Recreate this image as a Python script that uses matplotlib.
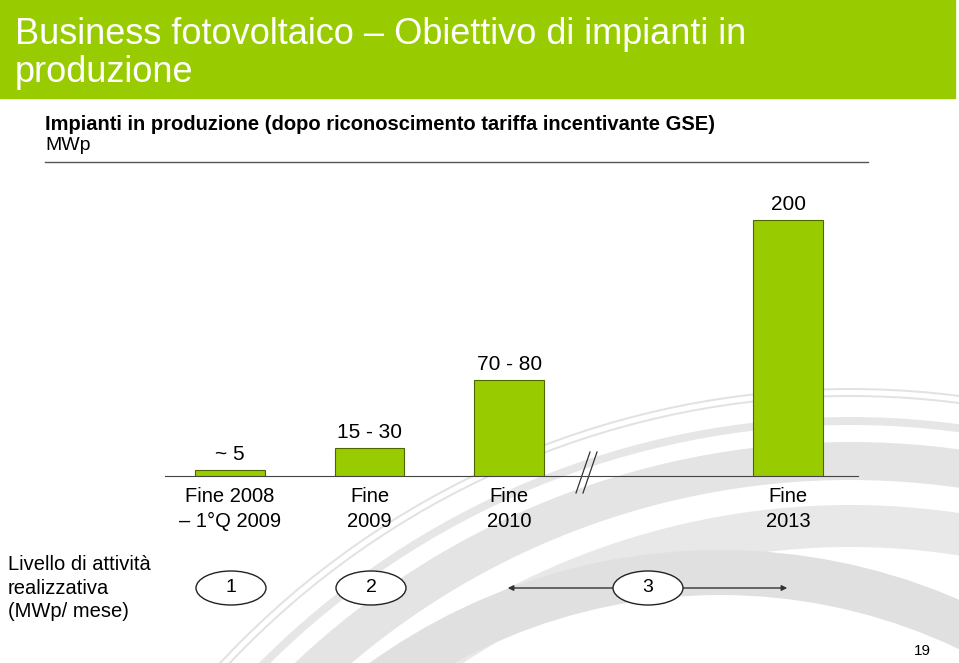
import matplotlib.pyplot as plt
from matplotlib.patches import Rectangle, Ellipse, Wedge

plt.rcParams['font.family'] = ['Liberation Sans', 'DejaVu Sans']

# ------------------ Data ------------------
categories = ["Fine 2008\n– 1°Q 2009", "Fine\n2009", "Fine\n2010", "Fine\n2013"]
values = [5, 22, 75, 200]
value_labels = ["~ 5", "15 - 30", "70 - 80", "200"]
phases = ["1", "2", "3"]

title = "Business fotovoltaico – Obiettivo di impianti in\nproduzione"
subtitle = "Impianti in produzione (dopo riconoscimento tariffa incentivante GSE)"
unit = "MWp"
side_label = "Livello di attività\nrealizzativa\n(MWp/ mese)"

green = "#99CC00"
W, H = 959, 663

fig = plt.figure(figsize=(W / 100, H / 100), dpi=100)

# background axes in pixel coordinates
bg = fig.add_axes([0, 0, 1, 1])
bg.set_xlim(0, W)
bg.set_ylim(H, 0)
bg.axis("off")

# decorative grey arcs (rough)
for cx, cy, r, w, c in [(850, 1250, 833, 8, "#e6e6e6"),
                        (850, 1250, 808, 38, "#e4e4e4"),
                        (850, 1250, 745, 42, "#e8e8e8"),
                        (720, 1150, 600, 45, "#e0e0e0"),
                        (850, 1250, 855, 2, "#e2e2e2"),
                        (850, 1250, 862, 2, "#e2e2e2")]:
    bg.add_patch(Wedge((cx, cy), r, 180, 360, width=w, color=c, zorder=0,
                       lw=0))

# header band
bg.add_patch(Rectangle((0, 0), 955, 98, color=green, zorder=1))
bg.text(15, 17, title, color="white", fontsize=26, va="top", ha="left",
        linespacing=1.1, zorder=2)
bg.text(45, 124, subtitle, fontsize=14.5, fontweight="bold", va="center",
        zorder=2)
bg.text(45, 146, unit, fontsize=14, va="center", zorder=2)
bg.plot([45, 868], [162, 162], color="#555555", lw=1, zorder=2)

# side label and page number
bg.text(8, 588, side_label, fontsize=14.5, va="center", ha="left",
        linespacing=1.3, zorder=2)
bg.text(922, 651, "19", fontsize=11, va="center", ha="center", zorder=2)

# ------------------ Bar chart ------------------
x_pos = [0, 1, 2, 4]
left_px, right_px, base_px, top_px = 165, 858, 476, 200
ax = fig.add_axes([left_px / W, (H - base_px) / H,
                   (right_px - left_px) / W, (base_px - top_px) / H])
ax.patch.set_alpha(0)
ax.set_xlim(-0.466, 4.5)
ax.set_ylim(0, (base_px - top_px) / 1.28)

ax.bar(x_pos, values, width=0.5, color=green, edgecolor="#4d6600",
       linewidth=0.8, zorder=3)
for x, v, lab in zip(x_pos, values, value_labels):
    ax.annotate(lab, (x, v), xytext=(0, 4), textcoords="offset points",
                ha="center", va="bottom", fontsize=15)

ax.set_xticks(x_pos)
ax.set_xticklabels(categories, fontsize=14.5, linespacing=1.38)
ax.tick_params(axis="x", length=0, pad=8)
ax.set_yticks([])
for s in ["top", "left", "right"]:
    ax.spines[s].set_visible(False)
ax.spines["bottom"].set_color("#444444")

# axis break marks
bg.plot([576, 590], [493, 452], color="#333333", lw=0.9, zorder=4)
bg.plot([583, 597], [493, 452], color="#333333", lw=0.9, zorder=4)

# ------------------ Phases ------------------
bg.annotate("", xy=(505, 588), xytext=(790, 588),
            arrowprops=dict(arrowstyle="<|-|>", color="#333333", lw=1,
                            mutation_scale=8), zorder=3)
for cx, lab in zip([231, 371, 648], phases):
    bg.add_patch(Ellipse((cx, 588), 70, 34, facecolor="white",
                         edgecolor="#222222", lw=1, zorder=4))
    bg.text(cx, 588, lab, fontsize=14, ha="center", va="center", zorder=5)

fig.savefig("out.png", dpi=100)
